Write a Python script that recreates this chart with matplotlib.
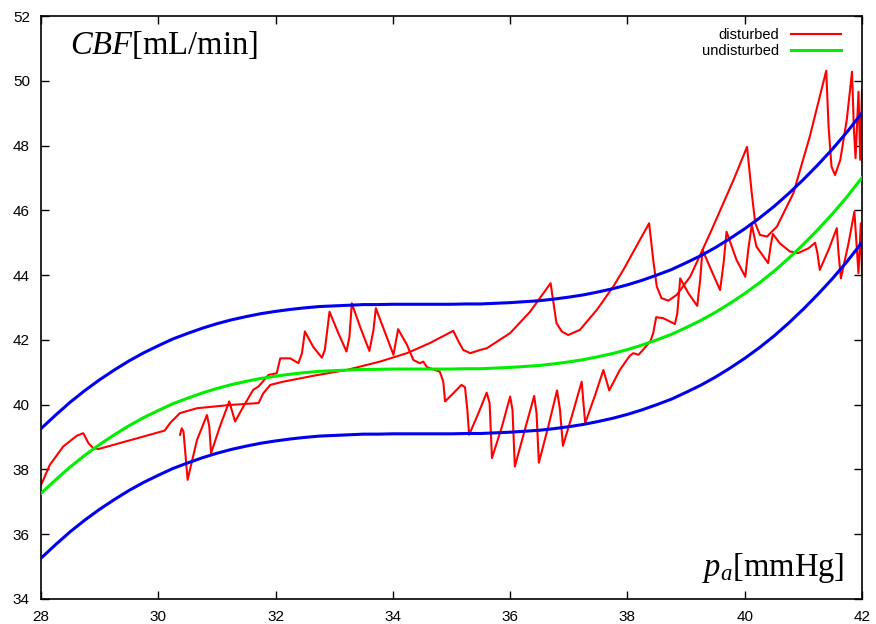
import matplotlib
matplotlib.use('Agg')
import matplotlib.pyplot as plt

# CBF vs arterial pressure: undisturbed curve, +-2 band, disturbed trajectory

pa_ref = [28.0, 28.25, 28.5, 28.75, 29.0, 29.25, 29.5, 29.75, 30.0, 30.25, 30.5, 30.75, 31.0, 31.25,
          31.5, 31.75, 32.0, 32.25, 32.5, 32.75, 33.0, 33.25, 33.5, 33.75, 34.0, 34.25, 34.5, 34.75,
          35.0, 35.25, 35.5, 35.75, 36.0, 36.25, 36.5, 36.75, 37.0, 37.25, 37.5, 37.75, 38.0, 38.25,
          38.5, 38.75, 39.0, 39.25, 39.5, 39.75, 40.0, 40.25, 40.5, 40.75, 41.0, 41.25, 41.5, 41.75, 42.0]
undisturbed = [37.26, 37.68, 38.08, 38.44, 38.77, 39.07, 39.35, 39.60, 39.82, 40.03, 40.20, 40.36,
               40.50, 40.62, 40.72, 40.81, 40.88, 40.94, 40.99, 41.03, 41.05, 41.07, 41.09, 41.09,
               41.10, 41.10, 41.10, 41.10, 41.10, 41.11, 41.11, 41.13, 41.15, 41.18, 41.21, 41.26,
               41.32, 41.39, 41.48, 41.58, 41.70, 41.84, 42.00, 42.17, 42.38, 42.60, 42.85, 43.13,
               43.43, 43.76, 44.12, 44.52, 44.95, 45.41, 45.90, 46.43, 47.01]
upper = [39.26, 39.68, 40.08, 40.44, 40.77, 41.07, 41.35, 41.60, 41.82, 42.03, 42.20, 42.36,
         42.50, 42.62, 42.72, 42.81, 42.88, 42.94, 42.99, 43.03, 43.05, 43.07, 43.09, 43.09,
         43.10, 43.10, 43.10, 43.10, 43.10, 43.11, 43.11, 43.13, 43.15, 43.18, 43.21, 43.26,
         43.32, 43.39, 43.48, 43.58, 43.70, 43.84, 44.00, 44.17, 44.38, 44.60, 44.85, 45.13,
         45.43, 45.76, 46.12, 46.52, 46.95, 47.41, 47.90, 48.43, 49.01]
lower = [35.26, 35.68, 36.08, 36.44, 36.77, 37.07, 37.35, 37.60, 37.82, 38.03, 38.20, 38.36,
         38.50, 38.62, 38.72, 38.81, 38.88, 38.94, 38.99, 39.03, 39.05, 39.07, 39.09, 39.09,
         39.10, 39.10, 39.10, 39.10, 39.10, 39.11, 39.11, 39.13, 39.15, 39.18, 39.21, 39.26,
         39.32, 39.39, 39.48, 39.58, 39.70, 39.84, 40.00, 40.17, 40.38, 40.60, 40.85, 41.13,
         41.43, 41.76, 42.12, 42.52, 42.95, 43.41, 43.90, 44.43, 45.01]

# disturbed run, first branch
pa_a = [28.0, 28.04, 28.15, 28.38, 28.61, 28.72, 28.81, 28.89, 28.98, 30.11, 30.2, 30.37, 30.66, 31.22,
        31.71, 31.79, 31.91, 32.13, 32.64, 33.21, 33.78, 34.24, 34.63, 35.03, 35.12, 35.2, 35.32, 35.49,
        35.6, 36.0, 36.34, 36.69, 36.74, 36.79, 36.88, 36.99, 37.19, 37.48, 37.76, 37.93, 38.37, 38.44,
        38.5, 38.58, 38.7, 38.84, 39.07, 39.41, 39.81, 40.04, 40.12, 40.18, 40.26, 40.38, 40.55, 40.83,
        41.11, 41.39, 41.43, 41.48, 41.54, 41.63, 41.74, 41.83, 41.86, 41.89, 41.94, 41.97, 42.0]
cbf_a = [37.52, 37.68, 38.14, 38.71, 39.04, 39.12, 38.81, 38.66, 38.63, 39.2, 39.43, 39.74, 39.89, 39.99,
         40.05, 40.35, 40.61, 40.71, 40.89, 41.07, 41.33, 41.59, 41.9, 42.28, 41.95, 41.69, 41.59, 41.69,
         41.74, 42.21, 42.87, 43.75, 43.13, 42.52, 42.26, 42.15, 42.31, 42.93, 43.65, 44.16, 45.6, 44.47,
         43.65, 43.29, 43.21, 43.39, 43.95, 45.29, 46.94, 47.96, 46.53, 45.6, 45.24, 45.19, 45.5, 46.53,
         48.28, 50.31, 48.58, 47.35, 47.09, 47.56, 48.79, 50.28, 48.58, 47.61, 49.66, 47.56, 49.72]

# disturbed run, second branch
pa_b = [30.37, 30.4, 30.43, 30.5, 30.66, 30.83, 30.87, 30.9, 31.05, 31.21, 31.31, 31.45, 31.62, 31.71,
        31.88, 32.02, 32.08, 32.25, 32.39, 32.45, 32.5, 32.64, 32.79, 32.84, 32.92, 33.07, 33.21, 33.26,
        33.3, 33.44, 33.6, 33.67, 33.71, 33.87, 34.01, 34.09, 34.24, 34.35, 34.46, 34.52, 34.58, 34.8,
        34.86, 34.89, 35.03, 35.17, 35.23, 35.27, 35.3, 35.46, 35.6, 35.65, 35.69, 35.86, 36.0, 36.04,
        36.08, 36.25, 36.41, 36.45, 36.49, 36.65, 36.8, 36.85, 36.9, 37.05, 37.22, 37.25, 37.28, 37.45,
        37.59, 37.69, 37.87, 38.04, 38.1, 38.19, 38.39, 38.44, 38.49, 38.61, 38.81, 38.85, 38.9, 39.04,
        39.19, 39.24, 39.28, 39.44, 39.58, 39.64, 39.69, 39.86, 40.01, 40.06, 40.12, 40.2, 40.4, 40.44,
        40.48, 40.6, 40.77, 40.91, 41.09, 41.2, 41.24, 41.28, 41.43, 41.57, 41.6, 41.64, 41.77, 41.87,
        41.94, 41.98, 42.0]
cbf_b = [39.07, 39.27, 39.17, 37.68, 38.91, 39.68, 39.32, 38.5, 39.32, 40.1, 39.48, 39.94, 40.46, 40.56,
         40.92, 40.97, 41.43, 41.43, 41.28, 41.59, 42.26, 41.79, 41.45, 41.69, 42.87, 42.21, 41.64, 42.1,
         43.13, 42.41, 41.66, 42.31, 42.98, 42.21, 41.54, 42.33, 41.85, 41.38, 41.28, 41.33, 41.16, 41.02,
         40.71, 40.1, 40.35, 40.61, 40.54, 39.84, 39.07, 39.74, 40.37, 40.05, 38.35, 39.32, 40.25, 39.84,
         38.09, 39.22, 40.27, 39.74, 38.21, 39.32, 40.44, 39.84, 38.73, 39.63, 40.71, 40.05, 39.43, 40.3,
         41.07, 40.44, 41.07, 41.51, 41.59, 41.54, 41.95, 42.21, 42.7, 42.67, 42.49, 42.82, 43.9, 43.44,
         43.05, 43.85, 44.78, 44.11, 43.54, 44.37, 45.34, 44.47, 43.95, 44.78, 45.55, 44.88, 44.37, 44.88,
         45.27, 44.98, 44.73, 44.68, 44.83, 45.0, 44.68, 44.16, 44.78, 45.45, 44.68, 43.9, 44.98, 45.96,
         44.06, 45.6, 44.07]

xticks = [28, 30, 32, 34, 36, 38, 40, 42]
yticks = [34, 36, 38, 40, 42, 44, 46, 48, 50, 52]

plt.rcParams['font.family'] = ['Liberation Sans', 'DejaVu Sans']
plt.rcParams['mathtext.fontset'] = 'custom'
plt.rcParams['mathtext.rm'] = 'Liberation Serif'
plt.rcParams['mathtext.it'] = 'Liberation Serif:italic'

fig = plt.figure(figsize=(8.76, 6.24), dpi=100)
ax = fig.add_axes([41/876, 1-599/624, 821/876, 583/624])

ax.plot(pa_a, cbf_a, color='#ff0000', lw=1.5, label='disturbed', zorder=2)
ax.plot(pa_b, cbf_b, color='#ff0000', lw=1.5, zorder=2)
ax.plot(pa_ref, undisturbed, color='#00ee00', lw=2.2, label='undisturbed', zorder=3)
ax.plot(pa_ref, upper, color='#0000ee', lw=2.2, zorder=4)
ax.plot(pa_ref, lower, color='#0000ee', lw=2.2, zorder=4)

ax.set_xlim(28, 42)
ax.set_ylim(34, 52)
ax.set_xticks(xticks)
ax.set_yticks(yticks)
ax.tick_params(direction='in', length=6, width=1, top=True, right=True, labelsize=11, pad=8)
for s in ax.spines.values():
    s.set_linewidth(1.2)

ax.text(0.035, 0.935, r'$CBF$[mL/min]', transform=ax.transAxes, fontsize=23.5,
        family='Liberation Serif', va='baseline', ha='left')
ax.text(0.979, 0.04, r'$p_a$[mmHg]', transform=ax.transAxes, fontsize=23.5,
        family='Liberation Serif', va='baseline', ha='right')

leg = ax.legend(loc='upper right', bbox_to_anchor=(0.99, 1.002), frameon=False, markerfirst=False,
                fontsize=10.5, handlelength=3.4, handletextpad=0.8, labelspacing=0.15)

fig.savefig('out.png', dpi=100)
